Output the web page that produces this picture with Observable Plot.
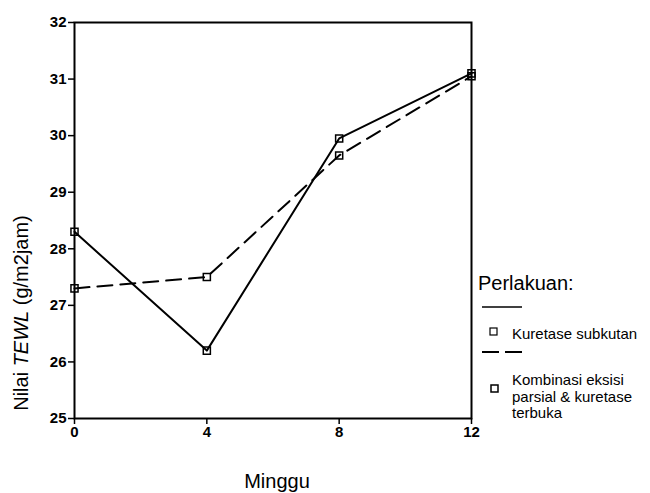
<!DOCTYPE html>
<html>
<head>
<meta charset="utf-8">
<script src="https://cdn.jsdelivr.net/npm/d3@7"></script>
<script src="https://cdn.jsdelivr.net/npm/@observablehq/plot@0.6"></script>
<style>
  body { margin: 0; background: #fff; }
  #chart svg { font-family: "Liberation Sans", Arial, sans-serif; }
</style>
</head>
<body>
<div id="chart"></div>
<script>
const weeks = [0, 4, 8, 12];
const seriesNames = ["Kuretase subkutan", "Kombinasi eksisi parsial & kuretase terbuka"];
const kuretaseSubkutan = [28.3, 26.2, 29.95, 31.1];
const kombinasi = [27.3, 27.5, 29.65, 31.05];
const xTicks = [0, 4, 8, 12];
const yTicks = [25, 26, 27, 28, 29, 30, 31, 32];

const data = [];
weeks.forEach((w, i) => data.push({week: w, value: kuretaseSubkutan[i], series: seriesNames[0]}));
weeks.forEach((w, i) => data.push({week: w, value: kombinasi[i], series: seriesNames[1]}));

const W = 650, H = 493;
const chart = Plot.plot({
  width: W, height: H,
  marginLeft: 74, marginRight: 179, marginTop: 22, marginBottom: 75,
  x: {domain: [0, 12], ticks: xTicks},
  y: {domain: [25, 32], ticks: yTicks},
  style: {fontFamily: "Liberation Sans, Arial, sans-serif", color: "#000", background: "#fff"},
  marks: [
    Plot.frame({stroke: "#000", strokeWidth: 2}),
    Plot.axisX({ticks: xTicks, tickFormat: d3.format("d"), tickSize: 6, tickPadding: 2, fontSize: 15, fontWeight: "bold", strokeWidth: 1.5, label: null}),
    Plot.axisY({ticks: yTicks, tickFormat: d3.format("d"), tickSize: 6, tickPadding: 2, fontSize: 15, fontWeight: "bold", strokeWidth: 1.5, label: null}),
    Plot.line(data.filter(d => d.series === seriesNames[0]), {x: "week", y: "value", stroke: "#000", strokeWidth: 2}),
    Plot.line(data.filter(d => d.series === seriesNames[1]), {x: "week", y: "value", stroke: "#000", strokeWidth: 2, strokeDasharray: "15,8"}),
    Plot.dot(data, {x: "week", y: "value", symbol: "square", r: 4, fill: "none", stroke: "#000", strokeWidth: 1.5})
  ]
});
document.getElementById("chart").append(chart);

const svg = d3.select(chart);

// X axis title
svg.append("text")
  .attr("x", 277).attr("y", 488)
  .attr("text-anchor", "middle")
  .attr("font-size", 20)
  .attr("fill", "#000")
  .text("Minggu");

// Y axis title with italic TEWL
const yl = svg.append("text")
  .attr("transform", `translate(28, 313) rotate(-90)`)
  .attr("text-anchor", "middle")
  .attr("font-size", 20)
  .attr("fill", "#000");
yl.append("tspan").text("Nilai ");
yl.append("tspan").attr("font-style", "italic").text("TEWL");
yl.append("tspan").text(" (g/m2jam)");

// Legend
const lg = svg.append("g").attr("font-size", 15).attr("fill", "#000").attr("text-anchor", "start");
lg.append("text").attr("x", 478).attr("y", 290).attr("font-size", 20).text("Perlakuan:");
lg.append("line").attr("x1", 482).attr("x2", 522).attr("y1", 307).attr("y2", 307).attr("stroke", "#000").attr("stroke-width", 1.5);
lg.append("rect").attr("x", 490).attr("y", 328).attr("width", 7).attr("height", 7).attr("fill", "none").attr("stroke", "#000").attr("stroke-width", 1.2);
lg.append("text").attr("x", 512).attr("y", 339).text(seriesNames[0]);
lg.append("line").attr("x1", 482).attr("x2", 522).attr("y1", 352).attr("y2", 352).attr("stroke", "#000").attr("stroke-width", 2).attr("stroke-dasharray", "17,6");
lg.append("rect").attr("x", 491).attr("y", 385).attr("width", 7).attr("height", 7).attr("fill", "none").attr("stroke", "#000").attr("stroke-width", 1.5);
const t2 = lg.append("text").attr("x", 512).attr("y", 385);
["Kombinasi eksisi", "parsial & kuretase", "terbuka"].forEach((s, i) =>
  t2.append("tspan").attr("x", 512).attr("dy", i === 0 ? 0 : 16.5).text(s));
</script>
</body>
</html>
